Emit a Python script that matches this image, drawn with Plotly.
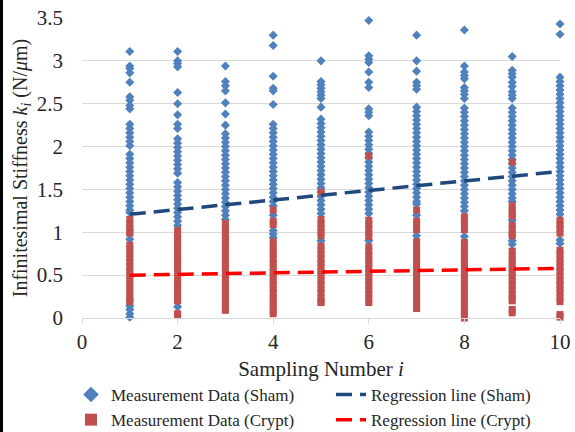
import plotly.graph_objects as go

# ---- data ----
samples = [1, 2, 3, 4, 5, 6, 7, 8, 9, 10]

sham_1 = [3.11, 2.94, 2.91, 2.86, 2.75, 2.58, 2.54, 2.48, 2.44, 2.26, 2.21, 2.16, 2.11, 2.06, 2.01, 1.91, 1.86, 1.81, 1.76, 1.71, 1.66, 1.61, 1.56, 1.51, 1.46, 1.41, 1.36, 1.31, 1.26, 1.23, 0.92, 0.14, 0.10, 0.05, 0.01]
sham_2 = [3.11, 3.00, 2.97, 2.93, 2.63, 2.50, 2.37, 2.26, 2.21, 2.09, 2.04, 1.99, 1.94, 1.89, 1.84, 1.79, 1.74, 1.69, 1.58, 1.53, 1.48, 1.43, 1.38, 1.33, 1.28, 1.23, 1.18, 1.13, 1.08, 0.13]
sham_3 = [2.94, 2.76, 2.71, 2.65, 2.51, 2.38, 2.25, 2.15, 2.10, 2.05, 2.00, 1.95, 1.90, 1.85, 1.80, 1.75, 1.70, 1.65, 1.60, 1.55, 1.50, 1.45, 1.40, 1.35, 1.30, 1.25, 1.20, 1.15]
sham_4 = [3.30, 3.18, 2.82, 2.68, 2.65, 2.49, 2.26, 2.21, 2.16, 2.11, 2.06, 2.01, 1.96, 1.91, 1.86, 1.81, 1.76, 1.71, 1.66, 1.61, 1.56, 1.51, 1.46, 1.41, 1.36, 1.31, 1.20, 1.02, 0.98, 0.94]
sham_5 = [3.00, 2.76, 2.72, 2.68, 2.64, 2.60, 2.56, 2.46, 2.32, 2.27, 2.22, 2.17, 2.12, 2.07, 2.02, 1.97, 1.92, 1.87, 1.82, 1.77, 1.72, 1.67, 1.62, 1.57, 1.52, 1.47, 1.42, 1.37, 1.32, 1.27, 1.22, 0.90]
sham_6 = [3.47, 3.06, 3.02, 2.98, 2.87, 2.75, 2.69, 2.44, 2.40, 2.36, 2.17, 2.12, 2.07, 2.02, 1.97, 1.92, 1.87, 1.82, 1.77, 1.72, 1.67, 1.62, 1.57, 1.52, 1.47, 1.42, 1.37, 1.32, 1.27, 1.22, 0.90]
sham_7 = [3.30, 3.00, 2.88, 2.75, 2.71, 2.67, 2.46, 2.41, 2.36, 2.31, 2.26, 2.21, 2.16, 2.11, 2.06, 2.01, 1.96, 1.91, 1.86, 1.81, 1.76, 1.71, 1.66, 1.61, 1.56, 1.51, 1.46, 1.41, 1.36, 1.33, 1.20, 0.96]
sham_8 = [3.36, 2.94, 2.87, 2.83, 2.79, 2.69, 2.65, 2.61, 2.56, 2.45, 2.40, 2.35, 2.30, 2.25, 2.20, 2.15, 2.10, 2.05, 2.00, 1.95, 1.90, 1.85, 1.80, 1.75, 1.70, 1.65, 1.60, 1.55, 1.50, 1.45, 1.40, 1.35, 1.30, 1.25, 0.95]
sham_9 = [3.05, 2.89, 2.85, 2.81, 2.75, 2.70, 2.64, 2.60, 2.56, 2.45, 2.40, 2.35, 2.30, 2.25, 2.20, 2.15, 2.10, 2.05, 2.00, 1.95, 1.90, 1.85, 1.80, 1.75, 1.70, 1.65, 1.60, 1.55, 1.50, 1.45, 1.40, 1.36, 1.14, 0.90, 0.86]
sham_10 = [3.43, 3.31, 2.81, 2.76, 2.71, 2.66, 2.61, 2.56, 2.51, 2.46, 2.41, 2.36, 2.31, 2.26, 2.21, 2.16, 2.11, 2.06, 2.01, 1.96, 1.91, 1.86, 1.81, 1.76, 1.71, 1.66, 1.61, 1.56, 1.51, 1.46, 1.41, 1.36, 1.31, 1.26, 1.21, 0.91, 0.87]

crypt_1 = [1.15, 1.10, 1.05, 1.00, 0.99, 0.85, 0.80, 0.75, 0.70, 0.65, 0.60, 0.55, 0.50, 0.45, 0.40, 0.35, 0.30, 0.25, 0.20, 0.19]
crypt_2 = [1.02, 0.97, 0.92, 0.87, 0.82, 0.77, 0.72, 0.67, 0.62, 0.57, 0.52, 0.47, 0.42, 0.37, 0.32, 0.27, 0.22, 0.20, 0.05, 0.03]
crypt_3 = [1.10, 1.05, 1.00, 0.95, 0.90, 0.85, 0.80, 0.75, 0.70, 0.65, 0.60, 0.55, 0.50, 0.45, 0.40, 0.35, 0.30, 0.25, 0.20, 0.15, 0.10, 0.09]
crypt_4 = [1.26, 1.13, 1.09, 0.89, 0.84, 0.79, 0.74, 0.69, 0.64, 0.59, 0.54, 0.49, 0.44, 0.39, 0.34, 0.29, 0.24, 0.19, 0.14, 0.09, 0.05]
crypt_5 = [1.47, 1.15, 1.10, 1.05, 1.00, 0.96, 0.84, 0.79, 0.74, 0.69, 0.64, 0.59, 0.54, 0.49, 0.44, 0.39, 0.34, 0.29, 0.24, 0.19, 0.18]
crypt_6 = [1.89, 1.14, 1.09, 1.04, 0.99, 0.95, 0.83, 0.78, 0.73, 0.68, 0.63, 0.58, 0.53, 0.48, 0.43, 0.38, 0.33, 0.28, 0.23, 0.18]
crypt_7 = [1.26, 1.13, 1.08, 1.03, 0.89, 0.84, 0.79, 0.74, 0.69, 0.64, 0.59, 0.54, 0.49, 0.44, 0.39, 0.34, 0.29, 0.24, 0.19, 0.14, 0.11]
crypt_8 = [1.18, 1.13, 1.08, 1.03, 0.88, 0.83, 0.78, 0.73, 0.68, 0.63, 0.58, 0.53, 0.48, 0.43, 0.38, 0.33, 0.28, 0.23, 0.18, 0.13, 0.08, 0.03, 0.00]
crypt_9 = [1.82, 1.31, 1.26, 1.21, 1.19, 1.08, 1.03, 0.98, 0.96, 0.78, 0.73, 0.68, 0.63, 0.58, 0.53, 0.48, 0.43, 0.38, 0.33, 0.28, 0.23, 0.20, 0.10, 0.06]
crypt_10 = [1.14, 1.09, 1.04, 0.99, 0.79, 0.74, 0.69, 0.64, 0.59, 0.54, 0.49, 0.44, 0.39, 0.34, 0.29, 0.24, 0.19, 0.04, 0.01]

reg_x = [1, 10]
reg_sham = [1.21, 1.71]
reg_crypt = [0.50, 0.58]

x_ticks = [0, 2, 4, 6, 8, 10]
y_ticks = [0, 0.5, 1, 1.5, 2, 2.5, 3, 3.5]
y_tick_text = ["0", "0.5", "1", "1.5", "2", "2.5", "3", "3.5"]

sham_cols = [sham_1, sham_2, sham_3, sham_4, sham_5, sham_6, sham_7, sham_8, sham_9, sham_10]
crypt_cols = [crypt_1, crypt_2, crypt_3, crypt_4, crypt_5, crypt_6, crypt_7, crypt_8, crypt_9, crypt_10]

sham_x, sham_y = [], []
for s, col in zip(samples, sham_cols):
    sham_x += [s] * len(col)
    sham_y += col
crypt_x, crypt_y = [], []
for s, col in zip(samples, crypt_cols):
    crypt_x += [s] * len(col)
    crypt_y += col

FONT = "Liberation Serif"
TXT = "#262626"

fig = go.Figure()
fig.add_trace(go.Scatter(
    x=sham_x, y=sham_y, mode="markers", name="Measurement Data (Sham)",
    marker=dict(symbol="diamond", size=7, color="#4F81BD", line=dict(width=0)),
    cliponaxis=False, legend="legend", legendgroup="a"))
fig.add_trace(go.Scatter(
    x=crypt_x, y=crypt_y, mode="markers", name="Measurement Data (Crypt)",
    marker=dict(symbol="square", size=7, color="#C0504D", line=dict(width=0)),
    cliponaxis=False, legend="legend", legendgroup="b"))
fig.add_trace(go.Scatter(
    x=reg_x, y=reg_sham, mode="lines", name="Regression line (Sham)",
    line=dict(color="#1F497D", width=3.5, dash="16px,8px"), legend="legend2",
    legendgroup="c"))
fig.add_trace(go.Scatter(
    x=reg_x, y=reg_crypt, mode="lines", name="Regression line (Crypt)",
    line=dict(color="#FF0000", width=3.5, dash="16px,8px"), legend="legend2",
    legendgroup="d"))

L, R, T, B = 82, 15, 18, 114
W, H = 575, 432
pw, ph = W - L - R, H - T - B

def px_x(p):
    return (p - L) / pw

def px_y(p):
    return (H - B - p) / ph

fig.update_layout(
    width=W, height=H,
    margin=dict(l=L, r=R, t=T, b=B, autoexpand=False),
    paper_bgcolor="white", plot_bgcolor="white",
    font=dict(family=FONT, size=18, color=TXT),
    showlegend=True,
    legend=dict(x=px_x(71), y=px_y(377), xanchor="left", yanchor="top",
                font=dict(family=FONT, size=17, color=TXT),
                itemsizing="constant", tracegroupgap=0, bgcolor="rgba(0,0,0,0)"),
    legend2=dict(x=px_x(331), y=px_y(377), xanchor="left", yanchor="top",
                 font=dict(family=FONT, size=17, color=TXT),
                 tracegroupgap=0, bgcolor="rgba(0,0,0,0)"),
    xaxis=dict(range=[0, 10], tickvals=x_ticks, showgrid=False, zeroline=False,
               automargin=False,
               showline=True, linecolor="#D9D9D9", linewidth=1,
               ticks="outside", ticklen=5, tickcolor="#D9D9D9",
               tickfont=dict(family=FONT, size=21, color=TXT),
               title=dict(text="Sampling Number <i>i</i>", standoff=8,
                          font=dict(family=FONT, size=21, color=TXT))),
    yaxis=dict(range=[0, 3.5], tickvals=y_ticks, ticktext=y_tick_text,
               automargin=False,
               showgrid=True, gridcolor="#D9D9D9", gridwidth=1, zeroline=False,
               showline=False, ticks="", ticklabelstandoff=18,
               tickfont=dict(family=FONT, size=21, color=TXT),
               title=dict(text="Infinitesimal Stiffness <i>k<sub>i</sub></i> (N/<i>μ</i>m)",
                          standoff=3,
                          font=dict(family=FONT, size=20, color=TXT))),
)

# dark frame strip at the left edge of the picture
fig.add_shape(type="rect", xref="paper", yref="paper", layer="above",
              x0=px_x(0), x1=px_x(3), y0=px_y(H), y1=px_y(0),
              fillcolor="black", line=dict(width=0))

fig.write_html("out.html",
               config={"displayModeBar": False},
               post_script="document.body.style.margin='0px';document.body.style.padding='0px';")
